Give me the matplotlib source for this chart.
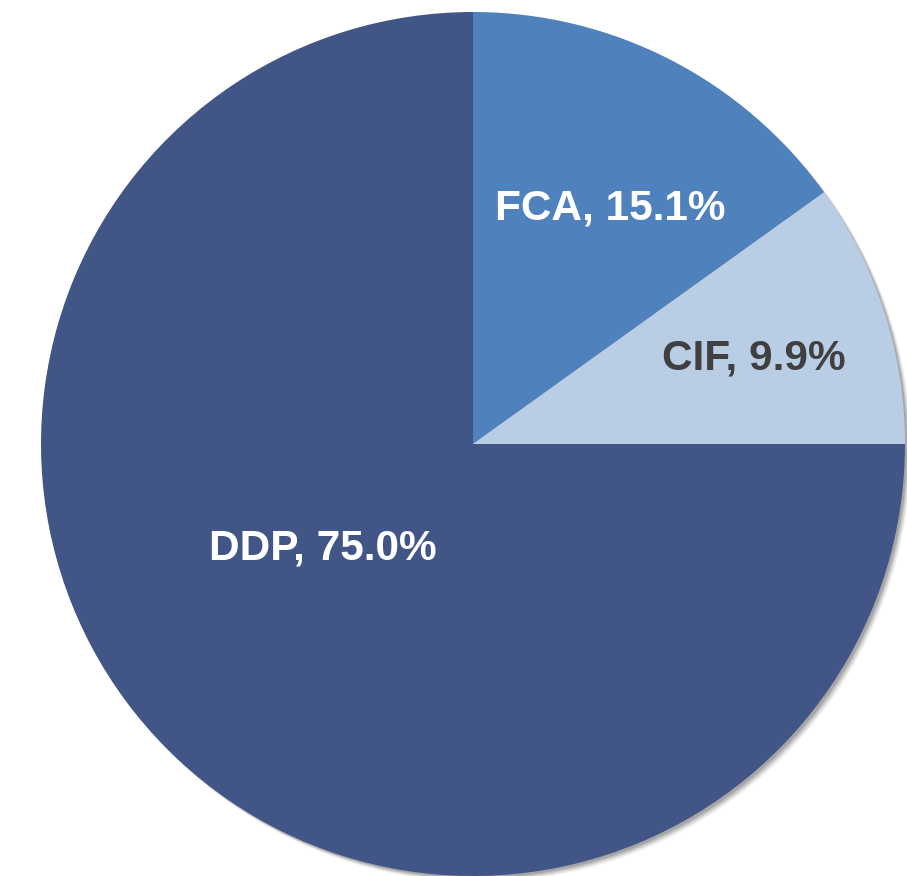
import matplotlib
matplotlib.use("Agg")
import matplotlib.pyplot as plt
from matplotlib.patches import Circle

# Data
categories = ["FCA", "CIF", "DDP"]
shares = [15.1, 9.9, 75.0]

# Styles
colors = ["#4F81BD", "#B9CDE5", "#425587"]
text_colors = ["white", "#404040", "white"]
label_pos = [(610, 876 - 209), (754, 876 - 358), (323, 876 - 548)]

W, H = 907, 876
fig = plt.figure(figsize=(W / 100, H / 100), dpi=100)
ax = fig.add_axes([0, 0, 1, 1])

cx, cy, R = 473, H - 444, 432

# soft shadow
for i, a in enumerate([0.08, 0.12, 0.16, 0.22]):
    off = 6 - i
    ax.add_patch(Circle((cx + off, cy - off), R - i * 0.3, color="#444444",
                        alpha=a, lw=0, zorder=0))

ax.pie(shares, colors=colors, startangle=90, counterclock=False,
       center=(cx, cy), radius=R, frame=True,
       wedgeprops=dict(linewidth=0, zorder=1))
ax.set_xlim(0, W)
ax.set_ylim(0, H)
ax.axis("off")

for cat, val, tc, (x, y) in zip(categories, shares, text_colors, label_pos):
    ax.text(x, y, f"{cat}, {val:.1f}%", ha="center", va="center",
            color=tc, fontsize=30.5, fontweight="bold",
            family=["Liberation Sans", "DejaVu Sans"], zorder=3)

fig.savefig("out.png", dpi=100)
